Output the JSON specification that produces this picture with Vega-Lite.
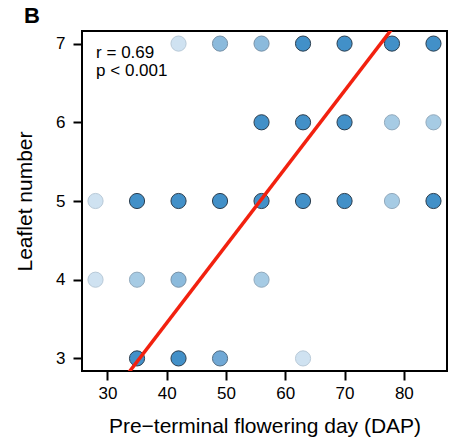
{
  "$schema": "https://vega.github.io/schema/vega-lite/v6.json",
  "width": 365,
  "height": 340,
  "autosize": {"type": "none"},
  "padding": {"left": 82, "top": 31, "right": 3, "bottom": 68},
  "config": {
    "font": "Liberation Sans",
    "view": {"stroke": "black", "strokeWidth": 2},
    "axis": {"grid": false, "domain": false, "tickColor": "black", "tickWidth": 2, "tickSize": 9, "labelColor": "black", "labelFont": "Liberation Sans", "labelFontSize": 17, "titleFont": "Liberation Sans", "titleFontSize": 21, "titleFontWeight": "normal", "titleColor": "black"}
  },
  "title": {"text": "B", "anchor": "start", "frame": "group", "dx": -58, "dy": 22, "fontSize": 22, "fontWeight": "bold", "font": "Liberation Sans", "color": "black", "baseline": "alphabetic", "offset": 8},
  "datasets": {
    "pts": [
      {"day": 42, "leaflet": 7, "level": 1}, {"day": 49, "leaflet": 7, "level": 3}, {"day": 56, "leaflet": 7, "level": 3}, {"day": 63, "leaflet": 7, "level": 5}, {"day": 70, "leaflet": 7, "level": 5}, {"day": 78, "leaflet": 7, "level": 5}, {"day": 85, "leaflet": 7, "level": 5},
      {"day": 56, "leaflet": 6, "level": 5}, {"day": 63, "leaflet": 6, "level": 5}, {"day": 70, "leaflet": 6, "level": 5}, {"day": 78, "leaflet": 6, "level": 2}, {"day": 85, "leaflet": 6, "level": 2},
      {"day": 28, "leaflet": 5, "level": 1}, {"day": 35, "leaflet": 5, "level": 5}, {"day": 42, "leaflet": 5, "level": 5}, {"day": 49, "leaflet": 5, "level": 5}, {"day": 56, "leaflet": 5, "level": 5}, {"day": 63, "leaflet": 5, "level": 5}, {"day": 70, "leaflet": 5, "level": 5}, {"day": 78, "leaflet": 5, "level": 2}, {"day": 85, "leaflet": 5, "level": 5},
      {"day": 28, "leaflet": 4, "level": 1}, {"day": 35, "leaflet": 4, "level": 2}, {"day": 42, "leaflet": 4, "level": 3}, {"day": 56, "leaflet": 4, "level": 2},
      {"day": 35, "leaflet": 3, "level": 5}, {"day": 42, "leaflet": 3, "level": 5}, {"day": 49, "leaflet": 3, "level": 4}, {"day": 63, "leaflet": 3, "level": 1}
    ],
    "fit": [
      {"day": 25.72, "leaflet": 2.045},
      {"day": 87.28, "leaflet": 8.1}
    ]
  },
  "layer": [
    {
      "data": {"name": "pts"},
      "mark": {"type": "point", "shape": "circle", "filled": true, "size": 230, "opacity": 1, "strokeWidth": 1, "strokeOpacity": 1},
      "encoding": {
        "x": {"field": "day", "type": "quantitative", "scale": {"domain": [25.72, 87.28], "nice": false, "zero": false}, "axis": {"values": [30, 40, 50, 60, 70, 80], "format": "d", "title": "Pre−terminal flowering day (DAP)", "titlePadding": 14, "labelPadding": 5}},
        "y": {"field": "leaflet", "type": "quantitative", "scale": {"domain": [2.84, 7.16], "nice": false, "zero": false}, "axis": {"values": [3, 4, 5, 6, 7], "format": "d", "title": "Leaflet number", "titlePadding": 20, "labelPadding": 8}},
        "fill": {"field": "level", "type": "ordinal", "scale": {"domain": [1, 2, 3, 4, 5], "range": ["#cfe2f1", "#a6cbe4", "#8bbadc", "#70a8d5", "#4290c8"]}, "legend": null},
        "stroke": {"field": "level", "type": "ordinal", "scale": {"domain": [1, 2, 3, 4, 5], "range": ["#b9cad8", "#92aabd", "#7892a8", "#536e84", "#2b3e4f"]}, "legend": null}
      }
    },
    {
      "data": {"name": "fit"},
      "mark": {"type": "line", "color": "#f2210f", "strokeWidth": 3.5, "clip": true},
      "encoding": {
        "x": {"field": "day", "type": "quantitative"},
        "y": {"field": "leaflet", "type": "quantitative"}
      }
    },
    {
      "data": {"values": [{"label": "r = 0.69"}]},
      "mark": {"type": "text", "align": "left", "baseline": "alphabetic", "fontSize": 17, "color": "black"},
      "encoding": {"x": {"datum": 28.1}, "y": {"datum": 6.815}, "text": {"field": "label"}}
    },
    {
      "data": {"values": [{"label": "p < 0.001"}]},
      "mark": {"type": "text", "align": "left", "baseline": "alphabetic", "fontSize": 17, "color": "black"},
      "encoding": {"x": {"datum": 28.1}, "y": {"datum": 6.594}, "text": {"field": "label"}}
    }
  ]
}
